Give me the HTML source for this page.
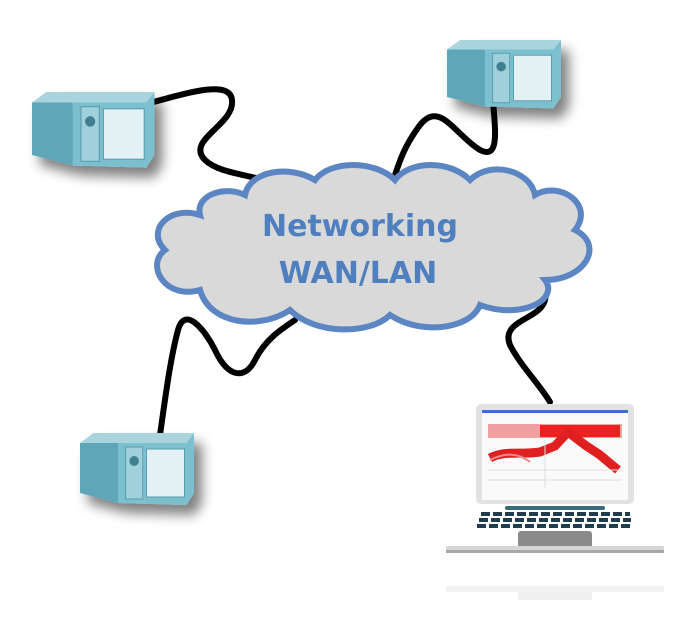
<!DOCTYPE html>
<html><head><style>body{margin:0;background:#fff}svg{display:block}</style></head>
<body>
<svg width="681" height="628" viewBox="0 0 681 628" xmlns="http://www.w3.org/2000/svg">
<defs>
<filter id="sh" x="-30%" y="-30%" width="170%" height="170%"><feGaussianBlur in="SourceAlpha" stdDeviation="6"/><feOffset dx="8" dy="10"/><feComponentTransfer><feFuncA type="linear" slope="0.5"/></feComponentTransfer><feMerge><feMergeNode/><feMergeNode in="SourceGraphic"/></feMerge></filter>
<g id="box">
<polygon points="0,10 14,0 120,0 112,10" fill="#a9d4de"/>
<polygon points="0,10 40,10 40,70 0,60" fill="#5fa7b8"/>
<polygon points="40,10 112,10 120,0 120,60 112,72 40,70" fill="#7cc0cf"/>
<rect x="48" y="14" width="18" height="52" fill="#9fd0dc" stroke="#5a9aab"/>
<circle cx="57" cy="28" r="5" fill="#3f7f90"/>
<rect x="70" y="16" width="40" height="48" fill="#e4f1f4" stroke="#5a9aab"/>
</g>
</defs>
<g fill="none" stroke="#000" stroke-width="6" stroke-linecap="round">
<path d="M150,103 C190,92 230,80 232,100 C235,125 185,140 205,160 C220,175 260,175 275,185"/>
<path d="M493,100 C495,130 500,160 480,150 C455,135 440,100 420,125 C405,145 400,160 395,175"/>
<path d="M160,435 C165,400 170,360 178,330 C185,305 205,330 215,350 C228,378 245,380 255,360 C265,340 280,330 295,320"/>
<path d="M550,402 C540,385 520,365 510,345 C500,320 540,320 545,300 C548,290 540,285 535,280"/>
</g>
<g filter="url(#sh)">
<use href="#box" transform="translate(32,92) scale(1.02,1.05)"/>
<use href="#box" transform="translate(447,40) scale(0.95,0.95)"/>
<use href="#box" transform="translate(80,433) scale(0.95,1.0)"/>
</g>
<path d="M200,215 C170,205 145,230 165,250 C145,265 165,300 200,290 C210,325 260,330 290,310 C315,335 370,335 390,315 C420,335 470,330 480,305 C520,320 560,300 545,280 C585,280 605,245 575,230 C595,205 560,180 535,195 C530,170 490,160 470,180 C450,160 410,160 395,180 C375,160 330,160 315,180 C290,165 250,170 245,195 C225,185 195,195 200,215 Z" fill="#d9d9d9" stroke="#5b86c3" stroke-width="6"/>
<text x="360" y="236" text-anchor="middle" font-family="DejaVu Sans, sans-serif" font-weight="bold" font-size="30" fill="#4f7fbf">Networking</text>
<text x="358" y="283" text-anchor="middle" font-family="DejaVu Sans, sans-serif" font-weight="bold" font-size="30" fill="#4f7fbf">WAN/LAN</text>
<!-- laptop -->
<rect x="476" y="404" width="158" height="100" rx="5" fill="#e2e2e2"/>
<rect x="482" y="410" width="146" height="90" fill="#fafafa"/>
<rect x="482" y="410" width="146" height="3" fill="#3d6fd0"/>
<rect x="488" y="424" width="134" height="14" fill="#f0a0a0"/>
<rect x="540" y="425" width="80" height="12" fill="#ee2020"/>
<path d="M490,458 C505,450 520,455 540,452 L555,446 L568,432 L585,445 L600,455 L618,470" stroke="#e02020" stroke-width="9" fill="none"/>
<path d="M490,460 C500,455 515,450 530,462" stroke="#e88" stroke-width="2" fill="none"/>
<g stroke="#ddd" stroke-width="1"><line x1="488" y1="470" x2="622" y2="470"/><line x1="488" y1="480" x2="622" y2="480"/><line x1="545" y1="440" x2="545" y2="488"/></g>
<rect x="505" y="506" width="100" height="4" rx="2" fill="#3a6a7a"/>
<g stroke="#1f3d4d" stroke-width="4" stroke-dasharray="9,3">
<line x1="481" y1="514" x2="630" y2="514"/><line x1="479" y1="520" x2="631" y2="520"/><line x1="477" y1="526" x2="632" y2="526"/>
</g>
<rect x="518" y="531" width="74" height="17" rx="3" fill="#8a8a8a"/>
<rect x="446" y="546" width="218" height="6" rx="2" fill="#d6d6d6"/>
<rect x="446" y="550" width="218" height="3" fill="#a8a8a8"/>
<rect x="446" y="586" width="218" height="6" fill="#f2f2f2"/>
<rect x="518" y="592" width="74" height="8" fill="#f0f0f0"/>
</svg>
</body></html>
